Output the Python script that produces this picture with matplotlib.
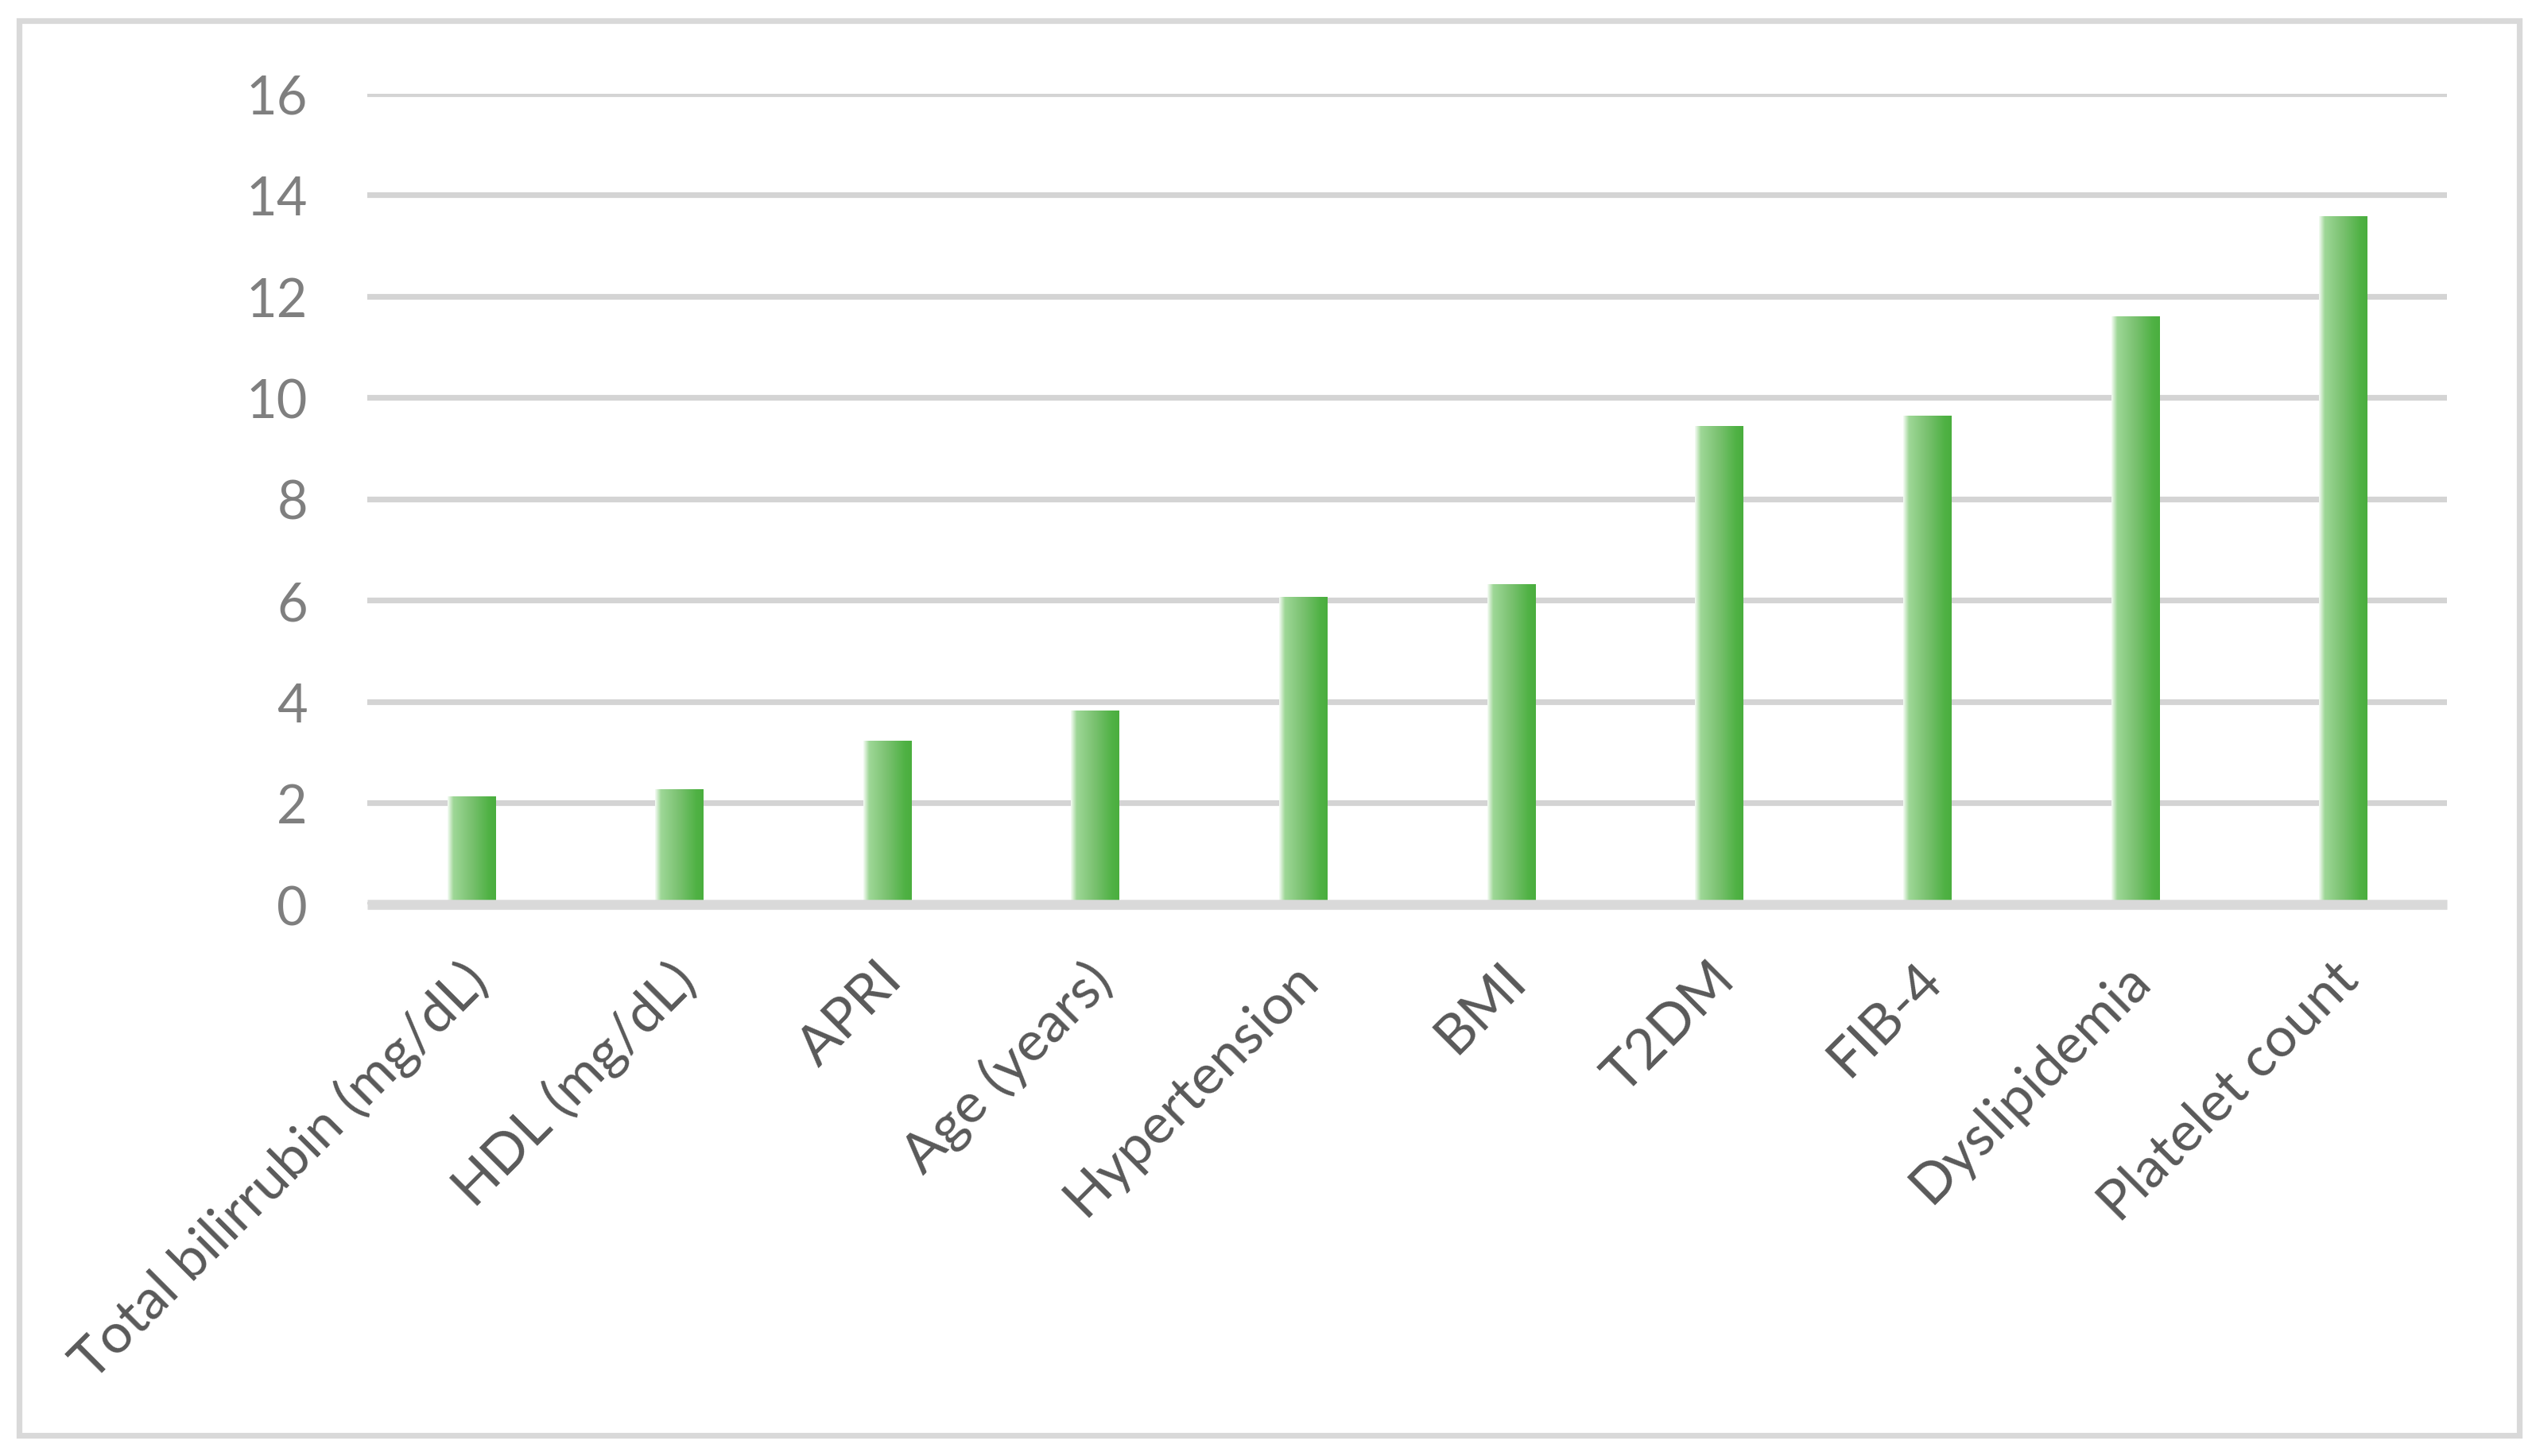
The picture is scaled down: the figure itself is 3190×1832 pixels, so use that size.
import numpy as np
import matplotlib
matplotlib.use("Agg")
import matplotlib.pyplot as plt
from matplotlib.colors import LinearSegmentedColormap
from matplotlib.patches import Rectangle
from matplotlib.transforms import ScaledTranslation

# Data
categories = [
    "Total bilirrubin (mg/dL)",
    "HDL (mg/dL)",
    "APRI",
    "Age (years)",
    "Hypertension",
    "BMI",
    "T2DM",
    "FIB-4",
    "Dyslipidemia",
    "Platelet count",
]
values = [2.13, 2.26, 3.22, 3.82, 6.06, 6.31, 9.43, 9.63, 11.6, 13.57]
y_ticks = [0, 2, 4, 6, 8, 10, 12, 14, 16]

# Styling
BAR_WIDTH = 0.23
GRID_COLOR = "#d4d4d4"
AXIS_COLOR = "#d9d9d9"
YTICK_COLOR = "#7f7f7f"
XTICK_COLOR = "#595959"
FONT = ["Lato", "DejaVu Sans"]

# left-to-right gradient used in each bar
green_grad = LinearSegmentedColormap.from_list(
    "green_grad",
    [
        (0.0, "#f6fcf5"),
        (0.12, "#9ed797"),
        (0.5, "#79c16f"),
        (0.85, "#50b245"),
        (1.0, "#4aae3e"),
    ],
)

plt.rcParams["font.family"] = FONT

fig = plt.figure(figsize=(15.95, 9.165), dpi=200)
ax = fig.add_axes([0.1448, 0.3786, 0.8201, 0.5566])

x = np.arange(len(categories))
grad = np.linspace(0, 1, 256).reshape(1, -1)
for xi, v in zip(x, values):
    ax.imshow(
        grad,
        cmap=green_grad,
        aspect="auto",
        extent=(xi - BAR_WIDTH / 2, xi + BAR_WIDTH / 2, 0, v),
        interpolation="bilinear",
        zorder=3,
    )

ax.set_xlim(-0.5, len(categories) - 0.5)
ax.set_ylim(0, 16)

# gridlines and axis line
ax.set_yticks(y_ticks)
ax.yaxis.grid(True, color=GRID_COLOR, linewidth=2.6, zorder=1)
ax.set_axisbelow(True)
for side in ["top", "right", "left"]:
    ax.spines[side].set_visible(False)
ax.spines["bottom"].set_color(AXIS_COLOR)
ax.spines["bottom"].set_linewidth(4.5)
ax.spines["bottom"].set_capstyle("butt")
ax.spines["bottom"].set_zorder(4)

ax.tick_params(axis="y", length=0, pad=27, labelsize=24, labelcolor=YTICK_COLOR)
ax.tick_params(axis="x", length=0, pad=22, labelsize=25.3, labelcolor=XTICK_COLOR)
ax.set_xticks(x)
ax.set_xticklabels(categories, rotation=45, ha="right", rotation_mode="anchor")

# nudge the rotated labels a little to the left
shift = ScaledTranslation(-0.07, 0.0, fig.dpi_scale_trans)
for lbl in ax.get_xticklabels():
    lbl.set_transform(lbl.get_transform() + shift)

# light gray frame around the whole chart
fig.patches.append(
    Rectangle(
        (24 / 3190, 1 - 1807 / 1833),
        (3169 - 24) / 3190,
        (1807 - 27) / 1833,
        transform=fig.transFigure,
        fill=False,
        edgecolor=AXIS_COLOR,
        linewidth=2.6,
    )
)

fig.savefig("out.png", dpi=200, facecolor="white")
